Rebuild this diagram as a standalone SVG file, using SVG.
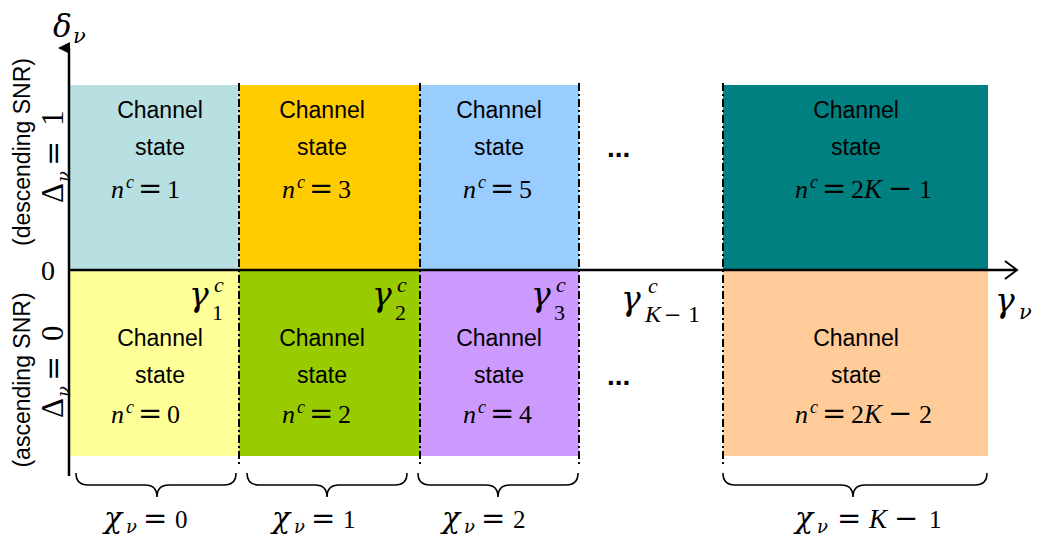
<svg xmlns="http://www.w3.org/2000/svg" width="1038" height="538" viewBox="0 0 1038 538">
<style>
.lbl{font-family:"Liberation Sans",Arial,sans-serif;font-size:23px;fill:#000;text-anchor:middle}
.dots{font-family:"Liberation Sans",Arial,sans-serif;font-size:28px;font-weight:bold;fill:#000}
.m{font-family:"Liberation Serif","Times New Roman",serif;fill:#000}
.i{font-style:italic}
.g{font-family:"DejaVu Serif",serif;font-style:italic}
.op{font-family:"DejaVu Serif",serif}
.sep{stroke:#000;stroke-width:2;stroke-dasharray:8 3 2 3;fill:none}
.brace{stroke:#000;stroke-width:1.6;fill:none}
.axis{stroke:#000;stroke-width:2.5;fill:none}
</style>
<defs>
<marker id="tri" markerWidth="12" markerHeight="12" refX="6" refY="11" orient="auto-start-reverse" markerUnits="userSpaceOnUse">
<path d="M0,12 L6,0 L12,12 Z" fill="#000"/>
</marker>
</defs>
<g id="cells">
<g id="c1top"><rect x="70" y="85" width="169" height="185" fill="#B8DFE2"/>
<text class="lbl" x="160" y="118">Channel</text><text class="lbl" x="160" y="155">state</text>
<text class="m" y="198" font-size="26"><tspan class="i" x="111">n</tspan><tspan class="i" x="126" dy="-10" font-size="18">c</tspan><tspan class="op" x="138" dy="10" font-size="29">=</tspan><tspan x="167">1</tspan></text></g>
<g id="c1bot"><rect x="70" y="270" width="169" height="186" fill="#FFFF99"/>
<text class="lbl" x="160" y="346">Channel</text><text class="lbl" x="160" y="383">state</text>
<text class="m" y="423" font-size="26"><tspan class="i" x="111">n</tspan><tspan class="i" x="126" dy="-10" font-size="18">c</tspan><tspan class="op" x="138" dy="10" font-size="29">=</tspan><tspan x="167">0</tspan></text></g>
<g id="c2top"><rect x="239" y="85" width="181" height="185" fill="#FFCC00"/>
<text class="lbl" x="322" y="118">Channel</text><text class="lbl" x="322" y="155">state</text>
<text class="m" y="198" font-size="26"><tspan class="i" x="282">n</tspan><tspan class="i" x="297" dy="-10" font-size="18">c</tspan><tspan class="op" x="309" dy="10" font-size="29">=</tspan><tspan x="338">3</tspan></text></g>
<g id="c2bot"><rect x="239" y="270" width="181" height="186" fill="#99CC00"/>
<text class="lbl" x="322" y="346">Channel</text><text class="lbl" x="322" y="383">state</text>
<text class="m" y="423" font-size="26"><tspan class="i" x="282">n</tspan><tspan class="i" x="297" dy="-10" font-size="18">c</tspan><tspan class="op" x="309" dy="10" font-size="29">=</tspan><tspan x="338">2</tspan></text></g>
<g id="c3top"><rect x="420" y="85" width="159" height="185" fill="#99CCFF"/>
<text class="lbl" x="499" y="118">Channel</text><text class="lbl" x="499" y="155">state</text>
<text class="m" y="198" font-size="26"><tspan class="i" x="463">n</tspan><tspan class="i" x="478" dy="-10" font-size="18">c</tspan><tspan class="op" x="490" dy="10" font-size="29">=</tspan><tspan x="519">5</tspan></text></g>
<g id="c3bot"><rect x="420" y="270" width="159" height="186" fill="#CC99FF"/>
<text class="lbl" x="499" y="346">Channel</text><text class="lbl" x="499" y="383">state</text>
<text class="m" y="423" font-size="26"><tspan class="i" x="463">n</tspan><tspan class="i" x="478" dy="-10" font-size="18">c</tspan><tspan class="op" x="490" dy="10" font-size="29">=</tspan><tspan x="519">4</tspan></text></g>
<g id="cKtop"><rect x="723" y="85" width="265" height="185" fill="#008080"/>
<text class="lbl" x="856" y="118">Channel</text><text class="lbl" x="856" y="155">state</text>
<text class="m" y="198" font-size="26"><tspan class="i" x="795">n</tspan><tspan class="i" x="810" dy="-10" font-size="18">c</tspan><tspan class="op" x="822" dy="10" font-size="29">=</tspan><tspan x="851">2</tspan><tspan class="i" x="864" font-size="27">K</tspan><tspan class="op" x="888" font-size="29">−</tspan><tspan x="919">1</tspan></text></g>
<g id="cKbot"><rect x="723" y="270" width="265" height="186" fill="#FFCC99"/>
<text class="lbl" x="856" y="346">Channel</text><text class="lbl" x="856" y="383">state</text>
<text class="m" y="423" font-size="26"><tspan class="i" x="795">n</tspan><tspan class="i" x="810" dy="-10" font-size="18">c</tspan><tspan class="op" x="822" dy="10" font-size="29">=</tspan><tspan x="851">2</tspan><tspan class="i" x="864" font-size="27">K</tspan><tspan class="op" x="888" font-size="29">−</tspan><tspan x="919">2</tspan></text></g>
<text class="dots" x="607" y="157">...</text>
<text class="dots" x="607" y="385">...</text>
</g>
<g id="connectors">
<line class="sep" x1="239" y1="83" x2="239" y2="466"/>
<line class="sep" x1="420" y1="83" x2="420" y2="466"/>
<line class="sep" x1="579" y1="83" x2="579" y2="466"/>
<line class="sep" x1="723" y1="83" x2="723" y2="466"/>
<line class="axis" x1="69" y1="476" x2="69" y2="48" marker-end="url(#tri)"/>
<line class="axis" x1="68" y1="270" x2="1016" y2="270"/>
<path d="M1005,261 L1017,270 L1005,279" stroke="#000" stroke-width="2" fill="none"/>
<path class="brace" d="M76,473 Q76,485 88,485 L145,485 Q157,485 157,497 Q157,485 169,485 L224,485 Q236,485 236,473"/>
<path class="brace" d="M247,473 Q247,485 259,485 L315,485 Q327,485 327,497 Q327,485 339,485 L395,485 Q407,485 407,473"/>
<path class="brace" d="M418,473 Q418,485 430,485 L486,485 Q498,485 498,497 Q498,485 510,485 L566,485 Q578,485 578,473"/>
<path class="brace" d="M723,473 Q723,485 735,485 L841,485 Q853,485 853,497 Q853,485 865,485 L975,485 Q987,485 987,473"/>
</g>
<g id="labels" class="m">
<text class="g" x="53" y="37" font-size="31">δ</text><text class="g" x="73" y="43" font-size="21">ν</text>
<text x="48" y="280" font-size="28" text-anchor="middle">0</text>
<text class="g" x="995" y="312" font-size="33">γ</text><text class="g" x="1019" y="319" font-size="21">ν</text>
<text class="g" x="189" y="306" font-size="33">γ</text><text x="212" y="320" font-size="22">1</text><text class="i" x="214" y="292" font-size="22">c</text>
<text class="g" x="372" y="306" font-size="33">γ</text><text x="395" y="320" font-size="22">2</text><text class="i" x="397" y="292" font-size="22">c</text>
<text class="g" x="531" y="306" font-size="33">γ</text><text x="554" y="320" font-size="22">3</text><text class="i" x="556" y="292" font-size="22">c</text>
<text class="g" x="621" y="310" font-size="33">γ</text><text class="i" x="645" y="322" font-size="24">K</text><text class="op" x="664" y="322" font-size="21">−</text><text x="688" y="322" font-size="24">1</text><text class="i" x="648" y="293" font-size="22">c</text>
<g id="chi0"><text class="g" x="104" y="528" font-size="30">χ</text><text class="g" x="126" y="533" font-size="18">ν</text><text class="op" x="143" y="528" font-size="29">=</text><text x="175" y="528" font-size="25">0</text></g>
<g id="chi1"><text class="g" x="272" y="528" font-size="30">χ</text><text class="g" x="294" y="533" font-size="18">ν</text><text class="op" x="311" y="528" font-size="29">=</text><text x="343" y="528" font-size="25">1</text></g>
<g id="chi2"><text class="g" x="442" y="528" font-size="30">χ</text><text class="g" x="464" y="533" font-size="18">ν</text><text class="op" x="481" y="528" font-size="29">=</text><text x="513" y="528" font-size="25">2</text></g>
<g id="chiK"><text class="g" x="795" y="528" font-size="30">χ</text><text class="g" x="817" y="533" font-size="18">ν</text><text class="op" x="837" y="528" font-size="29">=</text><text class="i" x="869" y="528" font-size="27">K</text><text class="op" x="894" y="528" font-size="29">−</text><text x="929" y="528" font-size="25">1</text></g>
<g id="delta1" transform="translate(63,203) rotate(-90)"><text x="0" y="0" font-size="31">Δ</text><text class="g" x="21" y="7" font-size="18">ν</text><text class="op" x="37" y="0" font-size="30">=</text><text x="77" y="0" font-size="31">1</text></g>
<g id="delta0" transform="translate(63,418) rotate(-90)"><text x="0" y="0" font-size="31">Δ</text><text class="g" x="21" y="7" font-size="18">ν</text><text class="op" x="37" y="0" font-size="30">=</text><text x="77" y="0" font-size="31">0</text></g>
<text class="lbl" transform="translate(30,152) rotate(-90)">(descending SNR)</text>
<text class="lbl" transform="translate(30,380) rotate(-90)">(ascending SNR)</text>
</g>
</svg>
